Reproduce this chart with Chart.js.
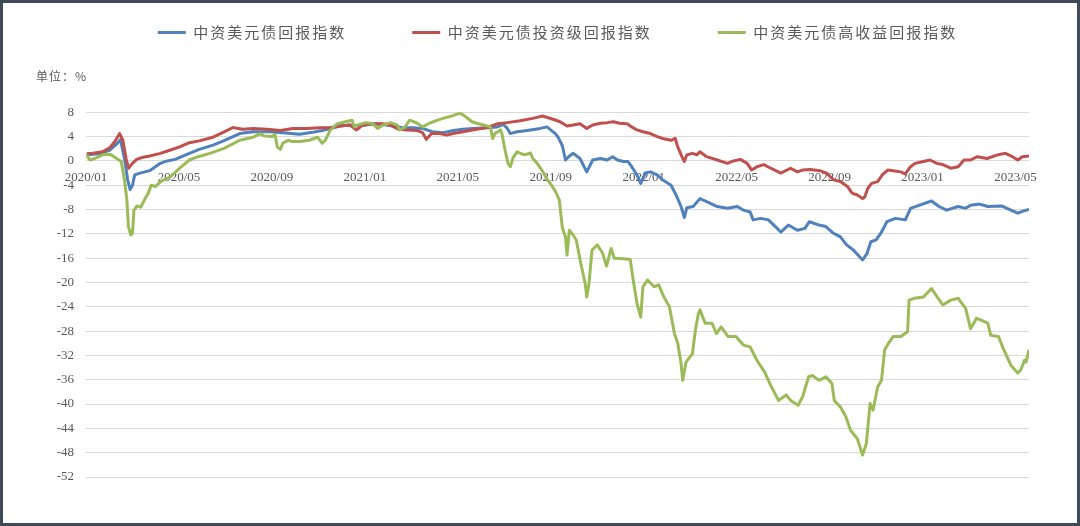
<!DOCTYPE html>
<html><head><meta charset="utf-8">
<script src="https://cdn.jsdelivr.net/npm/chart.js@4.4.0/dist/chart.umd.min.js"></script>
<style>html,body{margin:0;padding:0;background:#fff}canvas{display:block}</style>
</head><body>
<canvas id="c" width="1080" height="526"></canvas>
<script>
const seriesNames = ['中资美元债回报指数', '中资美元债投资级回报指数', '中资美元债高收益回报指数'];
const unitLabel = '单位：%';
const xTickLabels = ['2020/01','2020/05','2020/09','2021/01','2021/05','2021/09','2022/01','2022/05','2022/09','2023/01','2023/05'];

const blueDates = ['2020-01-02','2020-01-19','2020-02-02','2020-02-11','2020-02-15','2020-02-20','2020-02-24','2020-02-27','2020-03-01','2020-03-04',
'2020-03-11','2020-03-24','2020-04-07','2020-04-13','2020-04-26','2020-05-15','2020-05-28','2020-06-15','2020-06-30','2020-07-20',
'2020-08-07','2020-08-29','2020-09-15','2020-10-07','2020-10-24','2020-11-06','2020-11-29','2020-12-12','2020-12-25','2021-01-12',
'2021-01-30','2021-02-17','2021-03-03','2021-03-16','2021-03-29','2021-04-12','2021-04-25','2021-05-08','2021-05-21','2021-06-09',
'2021-06-22','2021-06-30','2021-07-05','2021-07-09','2021-07-18','2021-07-24','2021-08-05','2021-08-18','2021-08-27','2021-08-31',
'2021-09-07','2021-09-11','2021-09-16','2021-09-20','2021-09-24','2021-09-30','2021-10-09','2021-10-18','2021-10-26','2021-11-05',
'2021-11-14','2021-11-21','2021-11-27','2021-12-05','2021-12-11','2021-12-16','2021-12-23','2021-12-28','2022-01-03','2022-01-10',
'2022-01-19','2022-01-26','2022-02-06','2022-02-13','2022-02-18','2022-02-22','2022-02-25','2022-03-05','2022-03-14','2022-03-23',
'2022-04-06','2022-04-19','2022-05-02','2022-05-10','2022-05-19','2022-05-23','2022-06-02','2022-06-12','2022-06-21','2022-06-28',
'2022-07-08','2022-07-20','2022-07-30','2022-08-05','2022-08-18','2022-08-27','2022-09-06','2022-09-15','2022-09-23','2022-10-02',
'2022-10-14','2022-10-20','2022-10-25','2022-11-01','2022-11-08','2022-11-15','2022-11-26','2022-12-09','2022-12-16','2022-12-27',
'2023-01-13','2023-01-23','2023-02-02','2023-02-16','2023-02-25','2023-03-03','2023-03-15','2023-03-26','2023-04-13','2023-04-25',
'2023-05-04','2023-05-10','2023-05-19'];
const blueValues = [1.0,1.2,1.8,2.9,3.5,0.4,-3.1,-4.7,-4.0,-2.3,
-2.0,-1.6,-0.4,-0.1,0.25,1.25,1.9,2.6,3.4,4.5,
4.8,4.8,4.65,4.4,4.7,5.0,5.75,5.9,5.75,6.1,
5.9,5.5,5.45,5.35,4.8,4.65,5.0,5.2,5.35,5.45,
5.6,6.0,5.35,4.5,4.8,4.9,5.1,5.35,5.6,5.2,
4.5,3.8,2.5,0.15,0.7,1.25,0.4,-1.8,0.15,0.4,
0.15,0.7,0.15,-0.1,-0.1,-0.95,-2.3,-3.7,-2.0,-1.8,
-2.3,-3.1,-4.0,-5.9,-7.5,-9.3,-7.7,-7.5,-6.2,-6.7,
-7.5,-7.8,-7.5,-8.1,-8.4,-9.7,-9.45,-9.7,-10.8,-11.7,
-10.55,-11.4,-11.1,-10.0,-10.55,-10.8,-11.9,-12.5,-13.8,-14.7,
-16.3,-15.2,-13.3,-13.0,-11.7,-10.0,-9.45,-9.7,-7.8,-7.3,
-6.6,-7.5,-8.1,-7.5,-7.8,-7.3,-7.1,-7.5,-7.4,-8.1,
-8.6,-8.3,-8.0];

const redDates = ['2020-01-02','2020-01-10','2020-01-23','2020-02-02','2020-02-08','2020-02-14','2020-02-18','2020-02-22','2020-02-25','2020-03-01',
'2020-03-07','2020-03-15','2020-03-24','2020-04-07','2020-04-20','2020-05-02','2020-05-15','2020-05-28','2020-06-15','2020-06-28',
'2020-07-11','2020-07-24','2020-08-07','2020-08-25','2020-09-12','2020-09-28','2020-10-16','2020-11-03','2020-11-16','2020-11-29',
'2020-12-12','2020-12-21','2020-12-29','2021-01-12','2021-01-25','2021-02-04','2021-02-14','2021-02-24','2021-03-09','2021-03-16',
'2021-03-21','2021-03-28','2021-04-08','2021-04-17','2021-04-25','2021-05-08','2021-05-26','2021-06-09','2021-06-22','2021-07-05',
'2021-07-22','2021-08-08','2021-08-21','2021-09-04','2021-09-13','2021-09-22','2021-09-30','2021-10-09','2021-10-18','2021-10-26',
'2021-11-05','2021-11-14','2021-11-22','2021-11-30','2021-12-10','2021-12-16','2021-12-23','2021-12-31','2022-01-10','2022-01-19',
'2022-01-26','2022-02-06','2022-02-11','2022-02-14','2022-02-19','2022-02-22','2022-02-25','2022-03-04','2022-03-10','2022-03-14',
'2022-03-23','2022-04-06','2022-04-19','2022-04-27','2022-05-06','2022-05-15','2022-05-21','2022-05-28','2022-06-06','2022-06-15',
'2022-06-28','2022-07-11','2022-07-20','2022-07-27','2022-08-06','2022-08-19','2022-08-28','2022-09-06','2022-09-15','2022-09-24',
'2022-09-30','2022-10-07','2022-10-14','2022-10-17','2022-10-21','2022-10-26','2022-11-03','2022-11-09','2022-11-16','2022-11-23',
'2022-12-03','2022-12-09','2022-12-16','2022-12-22','2023-01-02','2023-01-11','2023-01-20','2023-01-28','2023-02-07','2023-02-16',
'2023-02-23','2023-03-03','2023-03-12','2023-03-25','2023-04-08','2023-04-18','2023-04-27','2023-05-04','2023-05-10','2023-05-19'];
const redValues = [1.2,1.25,1.5,2.2,3.2,4.5,3.4,0.4,-1.2,-0.4,
0.3,0.6,0.8,1.25,1.8,2.3,3.0,3.3,3.9,4.7,
5.5,5.2,5.35,5.2,5.0,5.35,5.35,5.45,5.45,5.75,
5.9,5.1,5.9,6.1,6.1,5.9,5.2,5.1,5.0,4.65,
3.55,4.5,4.5,4.25,4.5,4.8,5.2,5.5,6.1,6.3,
6.6,7.0,7.4,6.85,6.45,5.75,5.9,6.1,5.35,5.9,
6.2,6.3,6.45,6.2,6.1,5.6,5.1,4.8,4.5,4.0,
3.7,3.4,3.7,2.3,0.7,-0.1,1.0,1.25,1.0,1.5,
0.7,0.15,-0.4,0.0,0.25,-0.4,-1.5,-0.95,-0.6,-1.2,
-2.0,-1.2,-1.8,-1.5,-1.4,-1.6,-2.0,-3.1,-3.4,-4.2,
-5.3,-5.6,-6.2,-5.9,-4.5,-3.7,-3.4,-2.3,-1.5,-1.6,
-1.8,-2.15,-0.95,-0.4,-0.1,0.15,-0.4,-0.6,-1.2,-0.95,
0.15,0.15,0.7,0.4,1.0,1.25,0.7,0.15,0.7,0.8];

const greenDates = ['2020-01-02','2020-01-06','2020-01-13','2020-01-23','2020-02-02','2020-02-08','2020-02-12','2020-02-16','2020-02-20','2020-02-23',
'2020-02-25','2020-02-28','2020-03-01','2020-03-03','2020-03-07','2020-03-12','2020-03-17','2020-03-22','2020-03-26','2020-04-01',
'2020-04-07','2020-04-20','2020-05-02','2020-05-15','2020-05-24','2020-06-11','2020-06-30','2020-07-20','2020-08-07','2020-08-16',
'2020-08-22','2020-09-01','2020-09-05','2020-09-08','2020-09-12','2020-09-15','2020-09-22','2020-09-27','2020-10-07','2020-10-20',
'2020-10-31','2020-11-06','2020-11-10','2020-11-16','2020-11-25','2020-12-06','2020-12-15','2020-12-18','2020-12-22','2021-01-02',
'2021-01-12','2021-01-18','2021-01-25','2021-02-04','2021-02-12','2021-02-15','2021-02-21','2021-02-27','2021-03-09','2021-03-16',
'2021-03-25','2021-04-05','2021-04-12','2021-04-21','2021-04-30','2021-05-04','2021-05-11','2021-05-20','2021-05-26','2021-06-04',
'2021-06-13','2021-06-16','2021-06-19','2021-06-26','2021-06-28','2021-07-02','2021-07-06','2021-07-09','2021-07-13','2021-07-18',
'2021-07-22','2021-07-28','2021-08-05','2021-08-08','2021-08-14','2021-08-20','2021-08-27','2021-09-03','2021-09-07','2021-09-12',
'2021-09-16','2021-09-20','2021-09-22','2021-09-25','2021-09-30','2021-10-04','2021-10-11','2021-10-16','2021-10-18','2021-10-21',
'2021-10-25','2021-11-01','2021-11-08','2021-11-13','2021-11-19','2021-11-23','2021-12-05','2021-12-14','2021-12-18','2021-12-23',
'2021-12-28','2021-12-31','2022-01-06','2022-01-15','2022-01-21','2022-01-28','2022-02-04','2022-02-10','2022-02-14','2022-02-18',
'2022-02-20','2022-02-24','2022-03-04','2022-03-08','2022-03-12','2022-03-14','2022-03-21','2022-03-30','2022-04-05','2022-04-11',
'2022-04-20','2022-04-30','2022-05-10','2022-05-19','2022-05-28','2022-06-07','2022-06-16','2022-06-25','2022-07-05','2022-07-11',
'2022-07-21','2022-07-27','2022-08-04','2022-08-09','2022-08-18','2022-08-27','2022-09-04','2022-09-07','2022-09-15','2022-09-22',
'2022-09-28','2022-10-07','2022-10-14','2022-10-19','2022-10-24','2022-10-28','2022-11-03','2022-11-08','2022-11-12','2022-11-17',
'2022-11-23','2022-12-03','2022-12-12','2022-12-14','2022-12-21','2023-01-02','2023-01-13','2023-01-19','2023-01-28','2023-02-07',
'2023-02-16','2023-02-25','2023-03-03','2023-03-11','2023-03-17','2023-03-26','2023-03-30','2023-04-09','2023-04-16','2023-04-25',
'2023-05-04','2023-05-08','2023-05-13','2023-05-15','2023-05-19'];
const greenValues = [1.0,0.15,0.4,1.0,1.1,0.6,0.25,-0.1,-3.1,-6.4,
-10.8,-12.2,-11.9,-8.1,-7.4,-7.6,-6.4,-5.3,-4.0,-4.2,
-3.4,-2.6,-1.2,0.15,0.6,1.25,2.1,3.4,3.9,4.5,
4.1,4.0,4.3,2.3,1.9,2.9,3.4,3.2,3.2,3.4,
3.9,2.9,3.4,5.0,6.1,6.45,6.7,5.6,5.9,6.3,
6.1,5.35,5.9,6.3,5.9,5.1,5.5,6.7,6.2,5.6,
6.2,6.7,7.0,7.3,7.7,7.9,7.3,6.45,6.2,5.9,
5.6,3.7,4.5,5.1,4.5,1.8,-0.4,-0.95,0.6,1.5,
1.3,1.0,1.3,0.4,-0.4,-1.5,-3.0,-4.2,-5.0,-6.4,
-11.0,-12.5,-15.5,-11.4,-12.2,-13.0,-17.4,-20.2,-22.4,-20.2,
-14.7,-13.8,-15.2,-17.3,-14.4,-16.0,-16.1,-16.2,-19.6,-23.4,
-25.7,-20.7,-19.6,-20.7,-20.4,-22.4,-24.0,-28.4,-30.0,-33.3,
-36.1,-33.1,-31.7,-27.8,-25.1,-24.5,-26.7,-26.7,-28.4,-27.3,
-28.9,-28.9,-30.3,-30.6,-32.8,-34.7,-37.2,-39.4,-38.5,-39.4,
-40.2,-38.8,-35.5,-35.3,-36.1,-35.5,-36.6,-39.4,-40.5,-42.1,
-44.3,-45.7,-48.4,-46.5,-39.9,-41.0,-37.2,-36.1,-31.1,-30.0,
-28.9,-28.9,-28.1,-22.9,-22.6,-22.4,-21.0,-22.1,-23.7,-22.9,
-22.6,-24.3,-27.6,-25.9,-26.2,-26.7,-28.7,-28.9,-31.1,-33.6,
-34.9,-34.4,-32.8,-33.1,-31.1];

const seriesColors = ['#4F81BD', '#C0504D', '#9BBB59'];

function toMonths(s) {
  const p = s.split(/[-\/]/).map(Number);
  const y = p[0], m = p[1], d = p[2] || 1;
  const dim = new Date(y, m, 0).getDate();
  return (y - 2020) * 12 + (m - 1) + (d - 1) / dim;
}
function pts(dates, vals) { return dates.map((d, i) => ({ x: toMonths(d), y: vals[i] })); }

const lastDate = [blueDates, redDates, greenDates].map(a => a[a.length - 1]).sort().pop();
const textColor = '#595959';
const serif = 'Liberation Serif';
const cjk = '"Noto Sans CJK SC", "Noto Sans CJK JP", sans-serif';

function withSpacing(obj, method, sp) {
  const orig = obj[method];
  obj[method] = function (...a) {
    const ctx = this.ctx;
    const prev = ctx.letterSpacing;
    ctx.letterSpacing = sp;
    try { return orig.apply(this, a); } finally { ctx.letterSpacing = prev || '0px'; }
  };
}
const spacingPlugin = {
  id: 'spacing',
  beforeLayout(chart) {
    if (chart.legend && !chart.legend.__sp) {
      withSpacing(chart.legend, 'fit', '2px');
      withSpacing(chart.legend, 'draw', '2px');
      chart.legend.__sp = true;
    }
    if (chart.titleBlock && !chart.titleBlock.__sp) {
      withSpacing(chart.titleBlock, 'draw', '1px');
      chart.titleBlock.__sp = true;
    }
  }
};
const framePlugin = {
  id: 'frame',
  beforeDraw(c) { const x = c.ctx; x.save(); x.fillStyle = '#fff'; x.fillRect(0, 0, c.width, c.height); x.restore(); },
  afterDraw(c) { const x = c.ctx; x.save(); x.strokeStyle = '#3f4b58'; x.lineWidth = 3; x.strokeRect(1.5, 1.5, c.width - 3, c.height - 3); x.restore(); }
};

const allDates = [blueDates, redDates, greenDates];
const allValues = [blueValues, redValues, greenValues];

new Chart(document.getElementById('c'), {
  type: 'line',
  data: {
    datasets: seriesNames.map((name, i) => ({
      label: name,
      data: pts(allDates[i], allValues[i]),
      borderColor: seriesColors[i],
      backgroundColor: seriesColors[i],
      borderWidth: 3,
      pointRadius: 0,
      tension: 0,
      fill: false,
      borderJoinStyle: 'round',
      order: 3 - i
    }))
  },
  options: {
    responsive: false,
    animation: false,
    events: [],
    layout: { padding: { top: -41, left: 36, right: 51, bottom: 49 } },
    plugins: {
      legend: {
        position: 'top',
        align: 'center',
        fullSize: false,
        labels: {
          boxWidth: 28,
          boxHeight: 3,
          padding: 66,
          color: textColor,
          font: { family: cjk, size: 15 },
          sort: (a, b) => a.datasetIndex - b.datasetIndex,
          generateLabels: (chart) => Chart.defaults.plugins.legend.labels.generateLabels(chart).map(l => Object.assign(l, { lineWidth: 0 }))
        }
      },
      title: {
        display: true,
        text: unitLabel,
        align: 'start',
        fullSize: true,
        weight: 500,
        color: textColor,
        font: { family: cjk, size: 12, weight: 'normal' },
        padding: { top: 19.5, bottom: 28.4 }
      },
      tooltip: { enabled: false }
    },
    scales: {
      x: {
        type: 'linear',
        position: { y: 0 },
        min: 0,
        max: toMonths(lastDate),
        afterBuildTicks: (s) => { s.ticks = xTickLabels.map(l => ({ value: toMonths(l) })); },
        grid: { display: false, drawTicks: false },
        border: { display: false },
        ticks: {
          autoSkip: false, maxRotation: 0, padding: 9,
          color: textColor, font: { family: serif, size: 13 },
          callback: (v, i) => xTickLabels[i]
        }
      },
      y: {
        min: -52,
        max: 8,
        afterFit: (s) => { s.width = 50; },
        grid: { color: '#d9d9d9', lineWidth: 1, drawTicks: false },
        border: { display: false },
        ticks: { stepSize: 4, padding: 12, color: textColor, font: { family: serif, size: 13 } }
      }
    }
  },
  plugins: [spacingPlugin, framePlugin]
});
</script>
</body></html>
